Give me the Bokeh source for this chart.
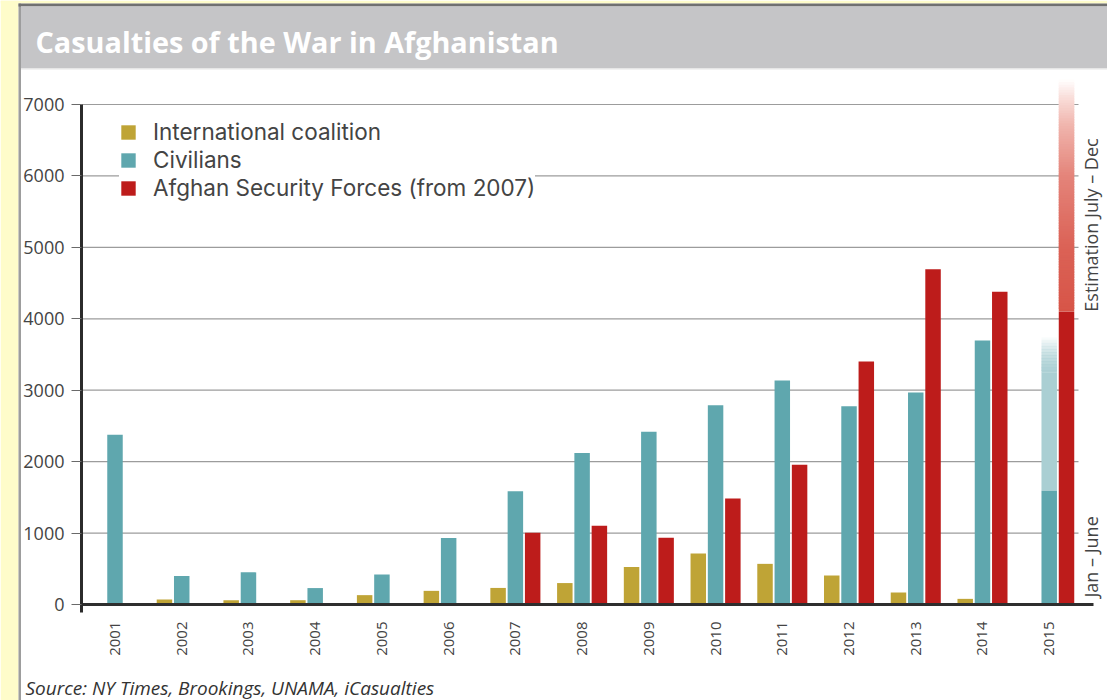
import numpy as np
from bokeh.plotting import figure
from bokeh.models import (Range1d, FixedTicker, Label, Legend, LegendItem, BoxAnnotation)
from bokeh.embed import file_html
from bokeh.resources import INLINE

# ---------------- data ----------------
years = [2001, 2002, 2003, 2004, 2005, 2006, 2007, 2008, 2009, 2010, 2011, 2012, 2013, 2014, 2015]
coalition = [12, 70, 58, 60, 131, 191, 232, 300, 525, 715, 569, 406, 168, 79, 10]
civilians = [2375, 400, 450, 230, 420, 930, 1586, 2120, 2418, 2791, 3136, 2777, 2968, 3696, 1592]
afghan_forces = [0, 0, 0, 0, 0, 0, 1003, 1101, 935, 1484, 1955, 3402, 4695, 4377, 4100]
# 2015 estimates (full year, incl. July - Dec estimate)
est_year = 2015
civilians_2015_est = 3500
afghan_forces_2015_est = 7350
y_ticks = [0, 1000, 2000, 3000, 4000, 5000, 6000, 7000]
series_names = ["International coalition", "Civilians", "Afghan Security Forces (from 2007)"]

# ---------------- styles ----------------
C_COAL = "#bfa436"
C_CIV = "#5fa7ae"
C_CIV_LIGHT = "#aacfd3"
C_ASF = "#bd1c1b"
YELLOW = "#fefcca"
HEADER_GRAY = "#c5c5c7"
FONT = "Open Sans"
LEGEND_FONT = "Inter"
TXT = "#444444"

W, H = 1107, 700
BW = 0.232
OFF = 0.259

# canvas <-> data mapping (frame covers the whole canvas)
PX0, PXSTEP = 114.5, 66.73      # pixel x of 2001 and pixels per year
PY0, PYSCALE = 604.0, 500 / 7000  # pixel y of 0 and pixels per casualty
def px2x(px):
    return years[0] + (px - PX0) / PXSTEP
def py2y(py):
    return (PY0 - py) / PYSCALE

x_start, x_end = px2x(0), px2x(W)
y_start, y_end = py2y(H), py2y(0)
axis_x = px2x(81)
axis_bottom = py2y(612)

p = figure(width=W, height=H, x_range=Range1d(x_start, x_end), y_range=Range1d(y_start, y_end),
           toolbar_location=None, output_backend="svg", min_border=0,
           min_border_left=0, min_border_right=0, min_border_top=0, min_border_bottom=0)
p.background_fill_color = "white"
p.border_fill_color = "white"
p.outline_line_color = None
p.grid.visible = False

# ---- frame decorations: yellow surround, header band ----
def box(l, r, t, b, color):
    p.add_layout(BoxAnnotation(left=px2x(l), right=px2x(r), top=py2y(t), bottom=py2y(b),
                               fill_color=color, fill_alpha=1, line_color=None, level="underlay"))
box(0, 18, 0, H, YELLOW)
box(0, W, 0, 3, YELLOW)
box(18, 20.5, 3, H, "#9d9d9d")
box(18, W, 3, 6, "#707070")
box(20.5, W, 6, 67.5, HEADER_GRAY)
box(20.5, W, 67.5, 69, "#e6e6e6")

p.add_layout(Label(x=px2x(35), y=py2y(41), text="Casualties of the War in Afghanistan",
                   text_font=FONT, text_font_size="28.8px", text_font_style="bold",
                   text_color="white", text_baseline="alphabetic"))

# ---- grid lines ----
grid_vals = [v for v in y_ticks if v > 0]
p.segment(x0=[axis_x] * len(grid_vals), x1=[px2x(1078)] * len(grid_vals), y0=grid_vals, y1=grid_vals,
          line_color="#9c9c9c", line_width=1.2)

yrs = np.array(years, dtype=float)

# ---- 2015 civilians estimate (light + fade) ----
civ_solid_top = civilians_2015_est - 250
p.vbar(x=[est_year], width=BW, bottom=[civilians[-1]], top=[civ_solid_top],
       fill_color=C_CIV_LIGHT, line_color=None)
n = 24
edges = np.linspace(civ_solid_top, civilians_2015_est + 250, n + 1)
step = edges[1] - edges[0]
p.vbar(x=[est_year] * n, width=BW, bottom=edges[:-1], top=edges[1:] + 0.7 * step,
       fill_color=C_CIV_LIGHT, fill_alpha=list(np.linspace(0.95, 0.0, n)), line_color=None)

# ---- 2015 Afghan forces estimate (gradient) ----
n2 = 90
edges2 = np.linspace(afghan_forces[-1], afghan_forces_2015_est, n2 + 1)
step2 = edges2[1] - edges2[0]
mids = (edges2[:-1] + edges2[1:]) / 2
stop_v = [afghan_forces[-1], 5000, 6000, 6700, 7100, afghan_forces_2015_est]
stop_c = np.array([[215, 85, 72], [219, 98, 86], [228, 132, 122], [240, 180, 172],
                   [249, 222, 218], [255, 255, 255]], float)
cols = []
for m in mids:
    rgb = [int(round(np.interp(m, stop_v, stop_c[:, k]))) for k in range(3)]
    cols.append("#%02x%02x%02x" % tuple(rgb))
tops2 = edges2[1:] + 0.7 * step2
tops2[-1] = edges2[-1]
p.vbar(x=[est_year + OFF] * n2, width=BW, bottom=edges2[:-1], top=tops2,
       fill_color=cols, line_color=None)

# ---- main bars ----
r1 = p.vbar(x=yrs - OFF, width=BW, top=coalition, bottom=0, fill_color=C_COAL, line_color=None)
r2 = p.vbar(x=yrs, width=BW, top=civilians, bottom=0, fill_color=C_CIV, line_color=None)
r3 = p.vbar(x=yrs + OFF, width=BW, top=afghan_forces, bottom=0, fill_color=C_ASF, line_color=None)

# zero line
p.segment(x0=[axis_x], x1=[px2x(1093)], y0=[0], y1=[0], line_color="#2e2e2e", line_width=3)

# ---- axes (fixed inside the frame) ----
yax = p.yaxis[0]
yax.fixed_location = axis_x
yax.ticker = FixedTicker(ticks=y_ticks)
yax.bounds = (axis_bottom, 7000)
yax.axis_line_width = 3
yax.axis_line_color = "#2b2b2b"
yax.major_tick_out = 10
yax.major_tick_in = 0
yax.major_tick_line_color = "#6a6a6a"
yax.minor_tick_line_color = None
yax.major_label_standoff = 7
yax.major_label_text_font = FONT
yax.major_label_text_font_size = "18px"
yax.major_label_text_color = TXT

xax = p.xaxis[0]
xax.fixed_location = axis_bottom
xax.ticker = FixedTicker(ticks=years)
xax.axis_line_color = None
xax.major_tick_line_color = None
xax.minor_tick_line_color = None
xax.major_label_orientation = np.pi / 2
xax.major_label_standoff = 3
xax.major_label_text_font = FONT
xax.major_label_text_font_size = "15px"
xax.major_label_text_color = TXT

# ---- right-side notes ----
note_x = px2x(1090)
p.add_layout(Label(x=note_x, y=afghan_forces[-1], text="Estimation July \u2013 Dec", angle=np.pi / 2,
                   text_align="left", text_baseline="middle", text_font=FONT,
                   text_font_size="18px", text_color=TXT))
p.add_layout(Label(x=note_x, y=py2y(597), text="Jan \u2013 June", angle=np.pi / 2,
                   text_align="left", text_baseline="middle", text_font=FONT,
                   text_font_size="18px", text_color=TXT))

# ---- source ----
p.add_layout(Label(x=px2x(25), y=py2y(687), text="Source: NY Times, Brookings, UNAMA, iCasualties",
                   text_font=FONT, text_font_size="19px", text_font_style="italic",
                   text_color="#333333", text_baseline="alphabetic"))

# ---- legend: one single-row legend per series, stacked at a 28 px pitch ----
legend_rows_vy = [555, 527, 499]
for name, rend, vy in zip(series_names, [r1, r2, r3], legend_rows_vy):
    lg = Legend(items=[LegendItem(label=name, renderers=[rend])], location=(119, vy),
                orientation="vertical")
    lg.background_fill_color = "white"
    lg.background_fill_alpha = 1
    lg.border_line_color = None
    lg.padding = 0
    lg.margin = 0
    lg.spacing = 0
    lg.glyph_width = 18
    lg.glyph_height = 18
    lg.label_height = 20
    lg.label_standoff = 16
    lg.label_text_font = LEGEND_FONT
    lg.label_text_font_size = "22.5px"
    lg.label_text_color = TXT
    p.add_layout(lg, "center")

open("out.html", "w").write(file_html(p, INLINE))
